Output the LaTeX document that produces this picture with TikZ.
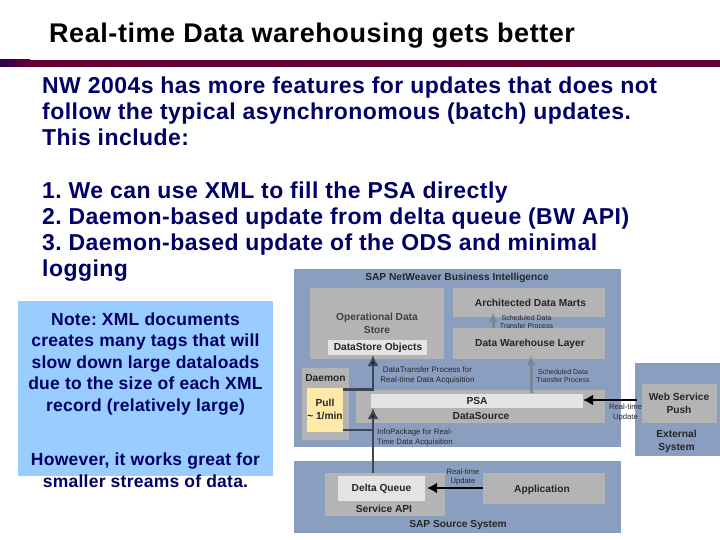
\documentclass[tikz,border=0pt]{standalone}
\usepackage{fontspec}
\setmainfont{Liberation Sans}
\usetikzlibrary{arrows.meta}
\definecolor{panelblue}{HTML}{8A9FC0}
\definecolor{boxgray}{HTML}{B4B4B4}
\definecolor{barwhite}{HTML}{E4E4E4}
\definecolor{pullyellow}{HTML}{FFE9A8}
\definecolor{notblue}{HTML}{99CCFF}
\definecolor{bodynavy}{HTML}{000066}
\definecolor{rulemaroon}{HTML}{660033}
\definecolor{arrowgray}{HTML}{7C8799}
\definecolor{shaftgray}{HTML}{3C4656}
\frenchspacing
\tikzset{
	area/.style={inner sep=0pt,outer sep=0pt,anchor=north west},
	lbl/.style={inner sep=0pt,font=\bfseries\fontsize{10.2}{12.5}\selectfont,text=black!85,align=center},
	tinylbl/.style={inner sep=0pt,font=\fontsize{#1}{9.5}\selectfont,text=black!85,align=center},
	tinylbl/.default=7.7,
	flow/.style={line width=2.6pt,-{Latex[length=10pt,width=11pt]},black},
	shaftflow/.style={line width=2.5pt,-{Latex[length=11pt,width=11pt,fill=black]},shaftgray},
	softflow/.style={line width=3pt,-{Latex[length=9pt,width=9pt]},arrowgray},
	bodytext/.style={inner sep=0pt,anchor=north west,align=left,text=bodynavy,font=\bfseries\fontsize{23}{26}\selectfont\addfontfeature{LetterSpace=2}},
	notetext/.style={inner sep=0pt,align=center,text=bodynavy,font=\bfseries\fontsize{17.5}{21.5}\selectfont\addfontfeature{LetterSpace=1.4}}
}
\begin{document}
\begin{tikzpicture}[x=1pt,y=-1pt]
	\useasboundingbox (0,0) rectangle (720,540);
	\fill[white] (0,0) rectangle (720,540);

	\node (title) [inner sep=0pt,anchor=base west,font=\bfseries\fontsize{27}{27}\selectfont\addfontfeature{LetterSpace=2.1}] at (49,43) {Real-time Data warehousing gets better};
	\shade[left color=bodynavy!60!rulemaroon,right color=rulemaroon] (0,60) rectangle (30,67);
	\fill[rulemaroon] (30,60) rectangle (720,67);

	\node (intro) [bodytext] at (42,77) {NW 2004s has more features for updates that does not\\follow the typical asynchronomous (batch) updates.\\This include:};
	\node (items) [bodytext] at (42,181.5) {1. We can use XML to fill the PSA directly\\2. Daemon-based update from delta queue (BW API)\\3. Daemon-based update of the ODS and minimal\\logging};

	% note on the left
	\node (notebox) [area,fill=notblue,minimum width=255pt,minimum height=175pt] at (18,301) {};
	\node (note) [notetext] at (145.5,364) {Note: XML documents\\creates many tags that will\\slow down large dataloads\\due to the size of each XML\\record (relatively large)};
	\node (however) [notetext] at (145.5,470) {However, it works great for\\smaller streams of data.};

	% panels
	\node (bi) [area,fill=panelblue,minimum width=327pt,minimum height=178pt] at (294,269) {};
	\node (source) [area,fill=panelblue,minimum width=327pt,minimum height=72pt] at (294,461) {};
	\node (external) [area,fill=panelblue,minimum width=85pt,minimum height=93pt] at (635,363) {};

	% upper panel
	\node (ods) [area,fill=boxgray,minimum width=134pt,minimum height=71pt] at (310,288) {};
	\node (dso) [area,fill=barwhite,minimum width=99pt,minimum height=15pt] at (328,340) {};
	\node (marts) [area,fill=boxgray,minimum width=152pt,minimum height=29pt] at (453,288) {};
	\node (dwh) [area,fill=boxgray,minimum width=152pt,minimum height=31pt] at (453,328) {};
	\node (daemon) [area,fill=boxgray,minimum width=47pt,minimum height=72pt] at (302,368) {};
	\node (pull) [area,fill=pullyellow,minimum width=36pt,minimum height=44pt] at (307,388) {};
	\node (datasource) [area,fill=boxgray,minimum width=249pt,minimum height=33pt] at (356,390) {};
	\node (psa) [area,fill=barwhite,minimum width=212pt,minimum height=14pt] at (371,394) {};

	% lower panel and external system
	\node (api) [area,fill=boxgray,minimum width=120pt,minimum height=43pt] at (325,473) {};
	\node (delta) [area,fill=barwhite,minimum width=87pt,minimum height=25pt] at (338,476) {};
	\node (app) [area,fill=boxgray,minimum width=122pt,minimum height=31pt] at (483,473) {};
	\node (push) [area,fill=boxgray,minimum width=75pt,minimum height=39pt] at (642,384) {};

	% connectors
	\draw[softflow] (dwh.north -| 493,0) -- ([yshift=4pt]marts.south -| 493,0);
	\draw[softflow] ([yshift=-3pt]datasource.north -| 531,0) -- ([yshift=3pt]dwh.south -| 531,0);
	\draw[line width=1.4pt,shaftgray] (pull.east |- 0,430) -- (373,430);
	\draw[shaftflow] (pull.east |- 0,389.5) -| ([xshift=-4.5pt]dso.south);
	\draw[shaftflow] (api.north -| 373,0) -- (psa.south -| 373,0);
	\draw[flow] (app.west |- 0,488) -- ([xshift=2pt]delta.east |- 0,488);
	\draw[flow] ([xshift=-5pt]push.west |- 0,400) -- (psa.east |- 0,400);

	% labels
	\node (bititle) [lbl] at (457,278) {SAP NetWeaver Business Intelligence};
	\node (odstext) [lbl,text=black!75] at (377,323.5) {Operational Data\\Store};
	\node (dsotext) [lbl] at (378,347.5) {DataStore Objects};
	\node (martstext) [lbl] at (530.5,303) {Architected Data Marts};
	\node (dwhtext) [lbl] at (530,343.5) {Data Warehouse Layer};
	\node (daemontext) [lbl] at (325.5,378.5) {Daemon};
	\node (pulltext) [lbl] at (325,409.5) {Pull\\\textasciitilde{} 1/min};
	\node (psatext) [lbl] at (477,401) {PSA};
	\node (dstext) [lbl] at (481,415.5) {DataSource};
	\node (sourcetext) [lbl] at (458,524.5) {SAP Source System};
	\node (deltatext) [lbl] at (381.5,489) {Delta Queue};
	\node (apitext) [lbl] at (384,508.5) {Service API};
	\node (apptext) [lbl] at (542,490) {Application};
	\node (pushtext) [lbl] at (679,403.5) {Web Service\\Push};
	\node (exttext) [lbl] at (676.5,441.5) {External\\System};
	\node (schedup) [tinylbl=7,font=\fontsize{7}{8}\selectfont] at (526.5,322) {Scheduled Data\\Transfer Process};
	\node (schedlow) [tinylbl=7,font=\fontsize{7}{8}\selectfont] at (563,376) {Scheduled Data\\Transfer Process};
	\node (dtptext) [tinylbl=8] at (427.5,375.5) {DataTransfer Process for\\Real-time Data Acquisition};
	\node (iptext) [tinylbl=7.8,font=\fontsize{7.8}{10}\selectfont,align=left,anchor=west] at (377,437) {InfoPackage for Real-\\Time Data Acquisition};
	\node (rtsource) [tinylbl] at (463,477) {Real-time\\Update};
	\node (rtpush) [tinylbl] at (625.5,412.5) {Real-time\\Update};
\end{tikzpicture}
\end{document}
